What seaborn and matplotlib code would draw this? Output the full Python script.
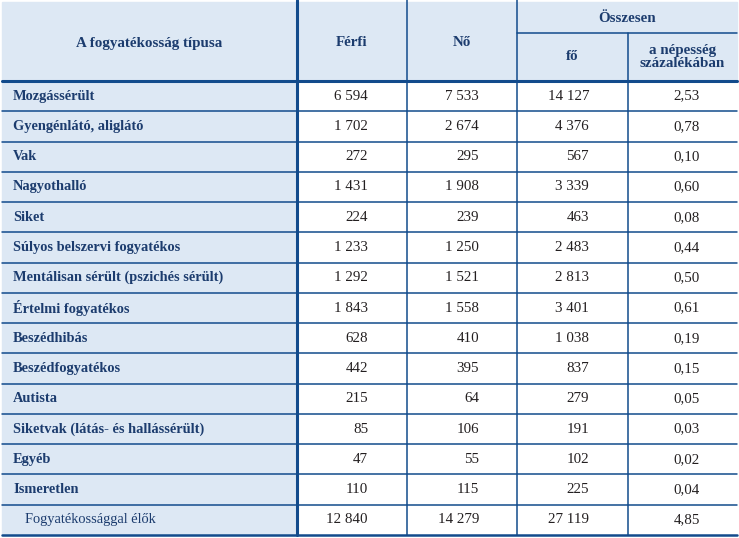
import matplotlib
matplotlib.use("Agg")
import matplotlib.pyplot as plt
import seaborn as sns
from matplotlib.patches import Rectangle

# table data
tipus = ["Mozgássérült", "Gyengénlátó, aliglátó", "Vak", "Nagyothalló", "Siket",
         "Súlyos belszervi fogyatékos", "Mentálisan sérült (pszichés sérült)",
         "Értelmi fogyatékos", "Beszédhibás", "Beszédfogyatékos", "Autista",
         "Siketvak (látás- és hallássérült)", "Egyéb", "Ismeretlen",
         "Fogyatékossággal élők"]
ferfi = [6594, 1702, 272, 1431, 224, 1233, 1292, 1843, 628, 442, 215, 85, 47, 110, 12840]
no = [7533, 2674, 295, 1908, 239, 1250, 1521, 1558, 410, 395, 64, 106, 55, 115, 14279]
osszesen = [14127, 4376, 567, 3339, 463, 2483, 2813, 3401, 1038, 837, 279, 191, 102, 225, 27119]
szazalek = [2.53, 0.78, 0.10, 0.60, 0.08, 0.44, 0.50, 0.61, 0.19, 0.15, 0.05, 0.03, 0.02, 0.04, 4.85]

sns.set_theme(style="white")
plt.rcParams['font.family'] = ['Liberation Serif', 'DejaVu Serif']

LINE = "#124b8c"
BG = "#dde8f4"
NAVY = "#1c3c6e"
NUM = "#231f20"
FS = 10.8
FS_LAB = 10.4

fig = plt.figure(figsize=(7.39, 5.38), dpi=100)
ax = fig.add_axes([0, 0, 1, 1])
ax.set_xlim(0, 739)
ax.set_ylim(538, 0)
ax.axis("off")

x0, x1, x2, x3, x4, x5 = 2, 297, 407, 517, 628, 737
ytop, yhead, ysub = 2, 81, 33
rh = (535 - yhead) / len(tipus)

def fmt(n):
    return f"{n:,}".replace(",", " ")

# backgrounds
ax.add_patch(Rectangle((x0, ytop), x5 - x0, yhead - ytop, color=BG, zorder=0))
ax.add_patch(Rectangle((x0, yhead), x1 - x0, 535 - yhead, color=BG, zorder=0))

# header text
hd = dict(fontsize=FS, fontweight="bold", color=NAVY, ha="center", va="center")
ax.text((x0 + x1) / 2, 43, "A fogyatékosság típusa", **hd)
ax.text((x1 + x2) / 2, 43, "Férfi", **hd)
ax.text((x2 + x3) / 2, 43, "Nő", **hd)
ax.text((x3 + x5) / 2, 18, "Összesen", **hd)
ax.text((x3 + x4) / 2, 57, "fő", **hd)
ax.text((x4 + x5) / 2, 57, "a népesség\nszázalékában", linespacing=1.0, **hd)

# body
for i, name in enumerate(tipus):
    yc = yhead + rh * (i + 0.5)
    last = i == len(tipus) - 1
    ax.text(25 if last else 13, yc, name, fontsize=FS_LAB,
            fontweight="normal" if last else "bold", color=NAVY, va="center")
    ax.text(368, yc, fmt(ferfi[i]), fontsize=FS, color=NUM, ha="right", va="center")
    ax.text(479, yc, fmt(no[i]), fontsize=FS, color=NUM, ha="right", va="center")
    ax.text(589, yc, fmt(osszesen[i]), fontsize=FS, color=NUM, ha="right", va="center")
    ax.text(700, yc, f"{szazalek[i]:.2f}".replace(".", ","), fontsize=FS,
            color=NUM, ha="right", va="center")
    if not last:
        ax.plot([x0, x5], [yhead + rh * (i + 1)] * 2, color=LINE, lw=1.1, zorder=2)

# grid lines
ax.plot([x0, x5], [yhead, yhead], color=LINE, lw=2.2, zorder=3)
ax.plot([x0, x5], [535, 535], color=LINE, lw=1.8, zorder=3)
ax.plot([x3, x5], [ysub, ysub], color=LINE, lw=1.1, zorder=2)
ax.plot([x1, x1], [0, 535], color=LINE, lw=2.2, zorder=3)
for x in (x2, x3):
    ax.plot([x, x], [0, 535], color=LINE, lw=1.1, zorder=2)
ax.plot([x4, x4], [ysub, 535], color=LINE, lw=1.1, zorder=2)

fig.savefig("out.png", dpi=100)
